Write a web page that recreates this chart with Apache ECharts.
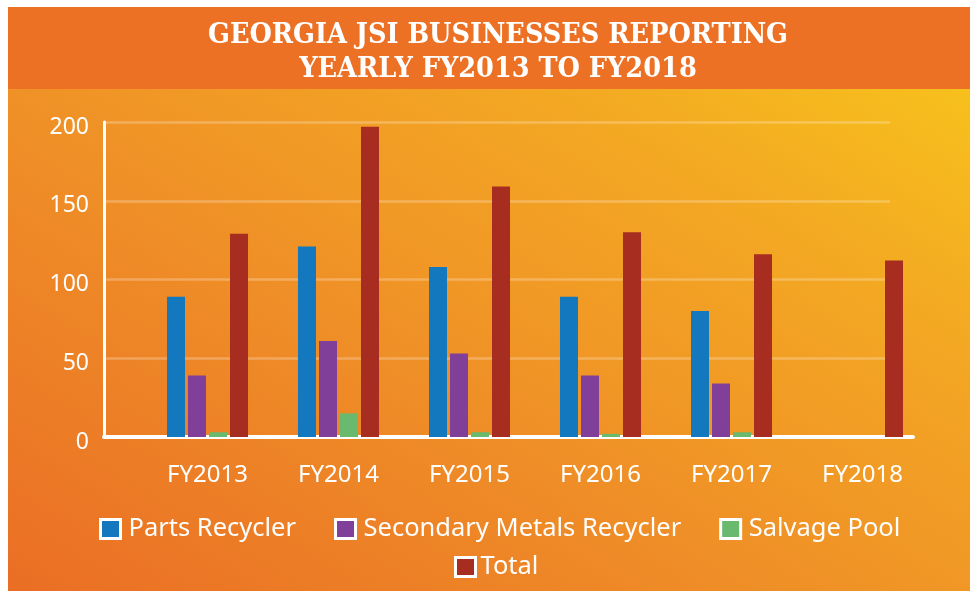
<!DOCTYPE html>
<html>
<head>
<meta charset="utf-8">
<script src="https://cdn.jsdelivr.net/npm/echarts@6/dist/echarts.min.js"></script>
<style>
  html, body { margin: 0; padding: 0; background: #fff; }
  #bg {
    position: absolute; left: 8px; top: 7px; width: 962px; height: 584px;
    background: linear-gradient(to top right, #EA6E25 0%, #EF8F27 40%, #F3A723 70%, #F8C81A 100%);
  }
  #head {
    position: absolute; left: 8px; top: 7px; width: 962px; height: 82px;
    background: #EC7125;
  }
  #main { position: absolute; left: 0; top: 0; width: 970px; height: 591px; }
</style>
</head>
<body>
<div id="bg"></div>
<div id="head"></div>
<div id="main"></div>
<script>
var years = ['FY2013', 'FY2014', 'FY2015', 'FY2016', 'FY2017', 'FY2018'];
var partsRecycler = [89, 121, 108, 89, 80, 0];
var secondaryMetals = [39, 61, 53, 39, 34, 0];
var salvagePool = [3, 15, 3, 2, 3, 0];
var total = [129, 197, 159, 130, 116, 112];
var yTicks = { min: 0, max: 200, interval: 50 };

var myChart = echarts.init(document.getElementById('main'));

var labelFont = 'Noto Sans';

option = {
    backgroundColor: 'transparent',
    title: {
        text: 'GEORGIA JSI BUSINESSES REPORTING\nYEARLY FY2013 TO FY2018',
        left: 493,
        top: 14,
        textAlign: 'center',
        textStyle: {
            color: '#fff',
            fontFamily: 'DejaVu Serif Condensed',
            fontWeight: 'bold',
            fontSize: 28.5,
            lineHeight: 34
        }
    },
    legend: [
        {
            data: ['Parts Recycler', 'Secondary Metals Recycler', 'Salvage Pool'],
            left: 99,
            top: 516,
            padding: 0,
            icon: 'rect',
            itemWidth: 20,
            itemHeight: 19,
            itemGap: 38,
            itemStyle: { borderColor: '#fff', borderWidth: 3 },
            textStyle: { color: '#fff', fontFamily: labelFont, fontSize: 25.5, padding: [0, 0, 0, 3] }
        },
        {
            data: ['Total'],
            left: 454,
            top: 554,
            padding: 0,
            icon: 'rect',
            itemWidth: 20,
            itemHeight: 19,
            itemStyle: { borderColor: '#fff', borderWidth: 3 },
            textStyle: { color: '#fff', fontFamily: labelFont, fontSize: 25.5, padding: [0, 0, 0, 0] }
        }
    ],
    grid: [
        // grid lines + value labels
        { left: 104, right: 80, top: 122, bottom: 154 },
        // bars
        { left: 142, right: 42, top: 122, bottom: 154 },
        // long base line
        { left: 104, right: 57, top: 122, bottom: 154 }
    ],
    xAxis: [
        { gridIndex: 0, type: 'value', show: false },
        {
            gridIndex: 1,
            type: 'category',
            data: years,
            axisLine: { show: false },
            axisTick: { show: false },
            axisLabel: { color: '#fff', fontFamily: labelFont, fontSize: 24, margin: 26 }
        },
        {
            gridIndex: 2,
            type: 'value',
            axisLine: { show: true, lineStyle: { color: '#fff', width: 4 } },
            axisTick: { show: false },
            axisLabel: { show: false },
            splitLine: { show: false }
        }
    ],
    yAxis: [
        {
            gridIndex: 0,
            type: 'value',
            min: yTicks.min,
            max: yTicks.max,
            interval: yTicks.interval,
            axisLine: { show: true, lineStyle: { color: '#fff', width: 3 } },
            axisTick: { show: false },
            axisLabel: {
                color: '#fff', fontFamily: labelFont, fontSize: 23, margin: 15,
                verticalAlign: 'top', lineHeight: 10
            },
            splitLine: { lineStyle: { color: 'rgba(255,255,255,0.25)', width: 2.5 } }
        },
        {
            gridIndex: 1,
            type: 'value',
            min: yTicks.min,
            max: yTicks.max,
            interval: yTicks.interval,
            show: false,
            splitLine: { show: false }
        },
        {
            gridIndex: 2,
            type: 'value',
            min: yTicks.min,
            max: yTicks.max,
            show: false,
            splitLine: { show: false }
        }
    ],
    series: [
        {
            name: 'Parts Recycler', type: 'bar', xAxisIndex: 1, yAxisIndex: 1,
            barWidth: 18, barGap: '16.7%',
            itemStyle: { color: '#1378BE' },
            data: partsRecycler
        },
        {
            name: 'Secondary Metals Recycler', type: 'bar', xAxisIndex: 1, yAxisIndex: 1,
            barWidth: 18, barGap: '16.7%',
            itemStyle: { color: '#80409A' },
            data: secondaryMetals
        },
        {
            name: 'Salvage Pool', type: 'bar', xAxisIndex: 1, yAxisIndex: 1,
            barWidth: 18, barGap: '16.7%',
            itemStyle: { color: '#69B96F' },
            data: salvagePool
        },
        {
            name: 'Total', type: 'bar', xAxisIndex: 1, yAxisIndex: 1,
            barWidth: 18, barGap: '16.7%',
            itemStyle: { color: '#A62D1F' },
            data: total
        }
    ]
};

myChart.setOption(option);
</script>
</body>
</html>
